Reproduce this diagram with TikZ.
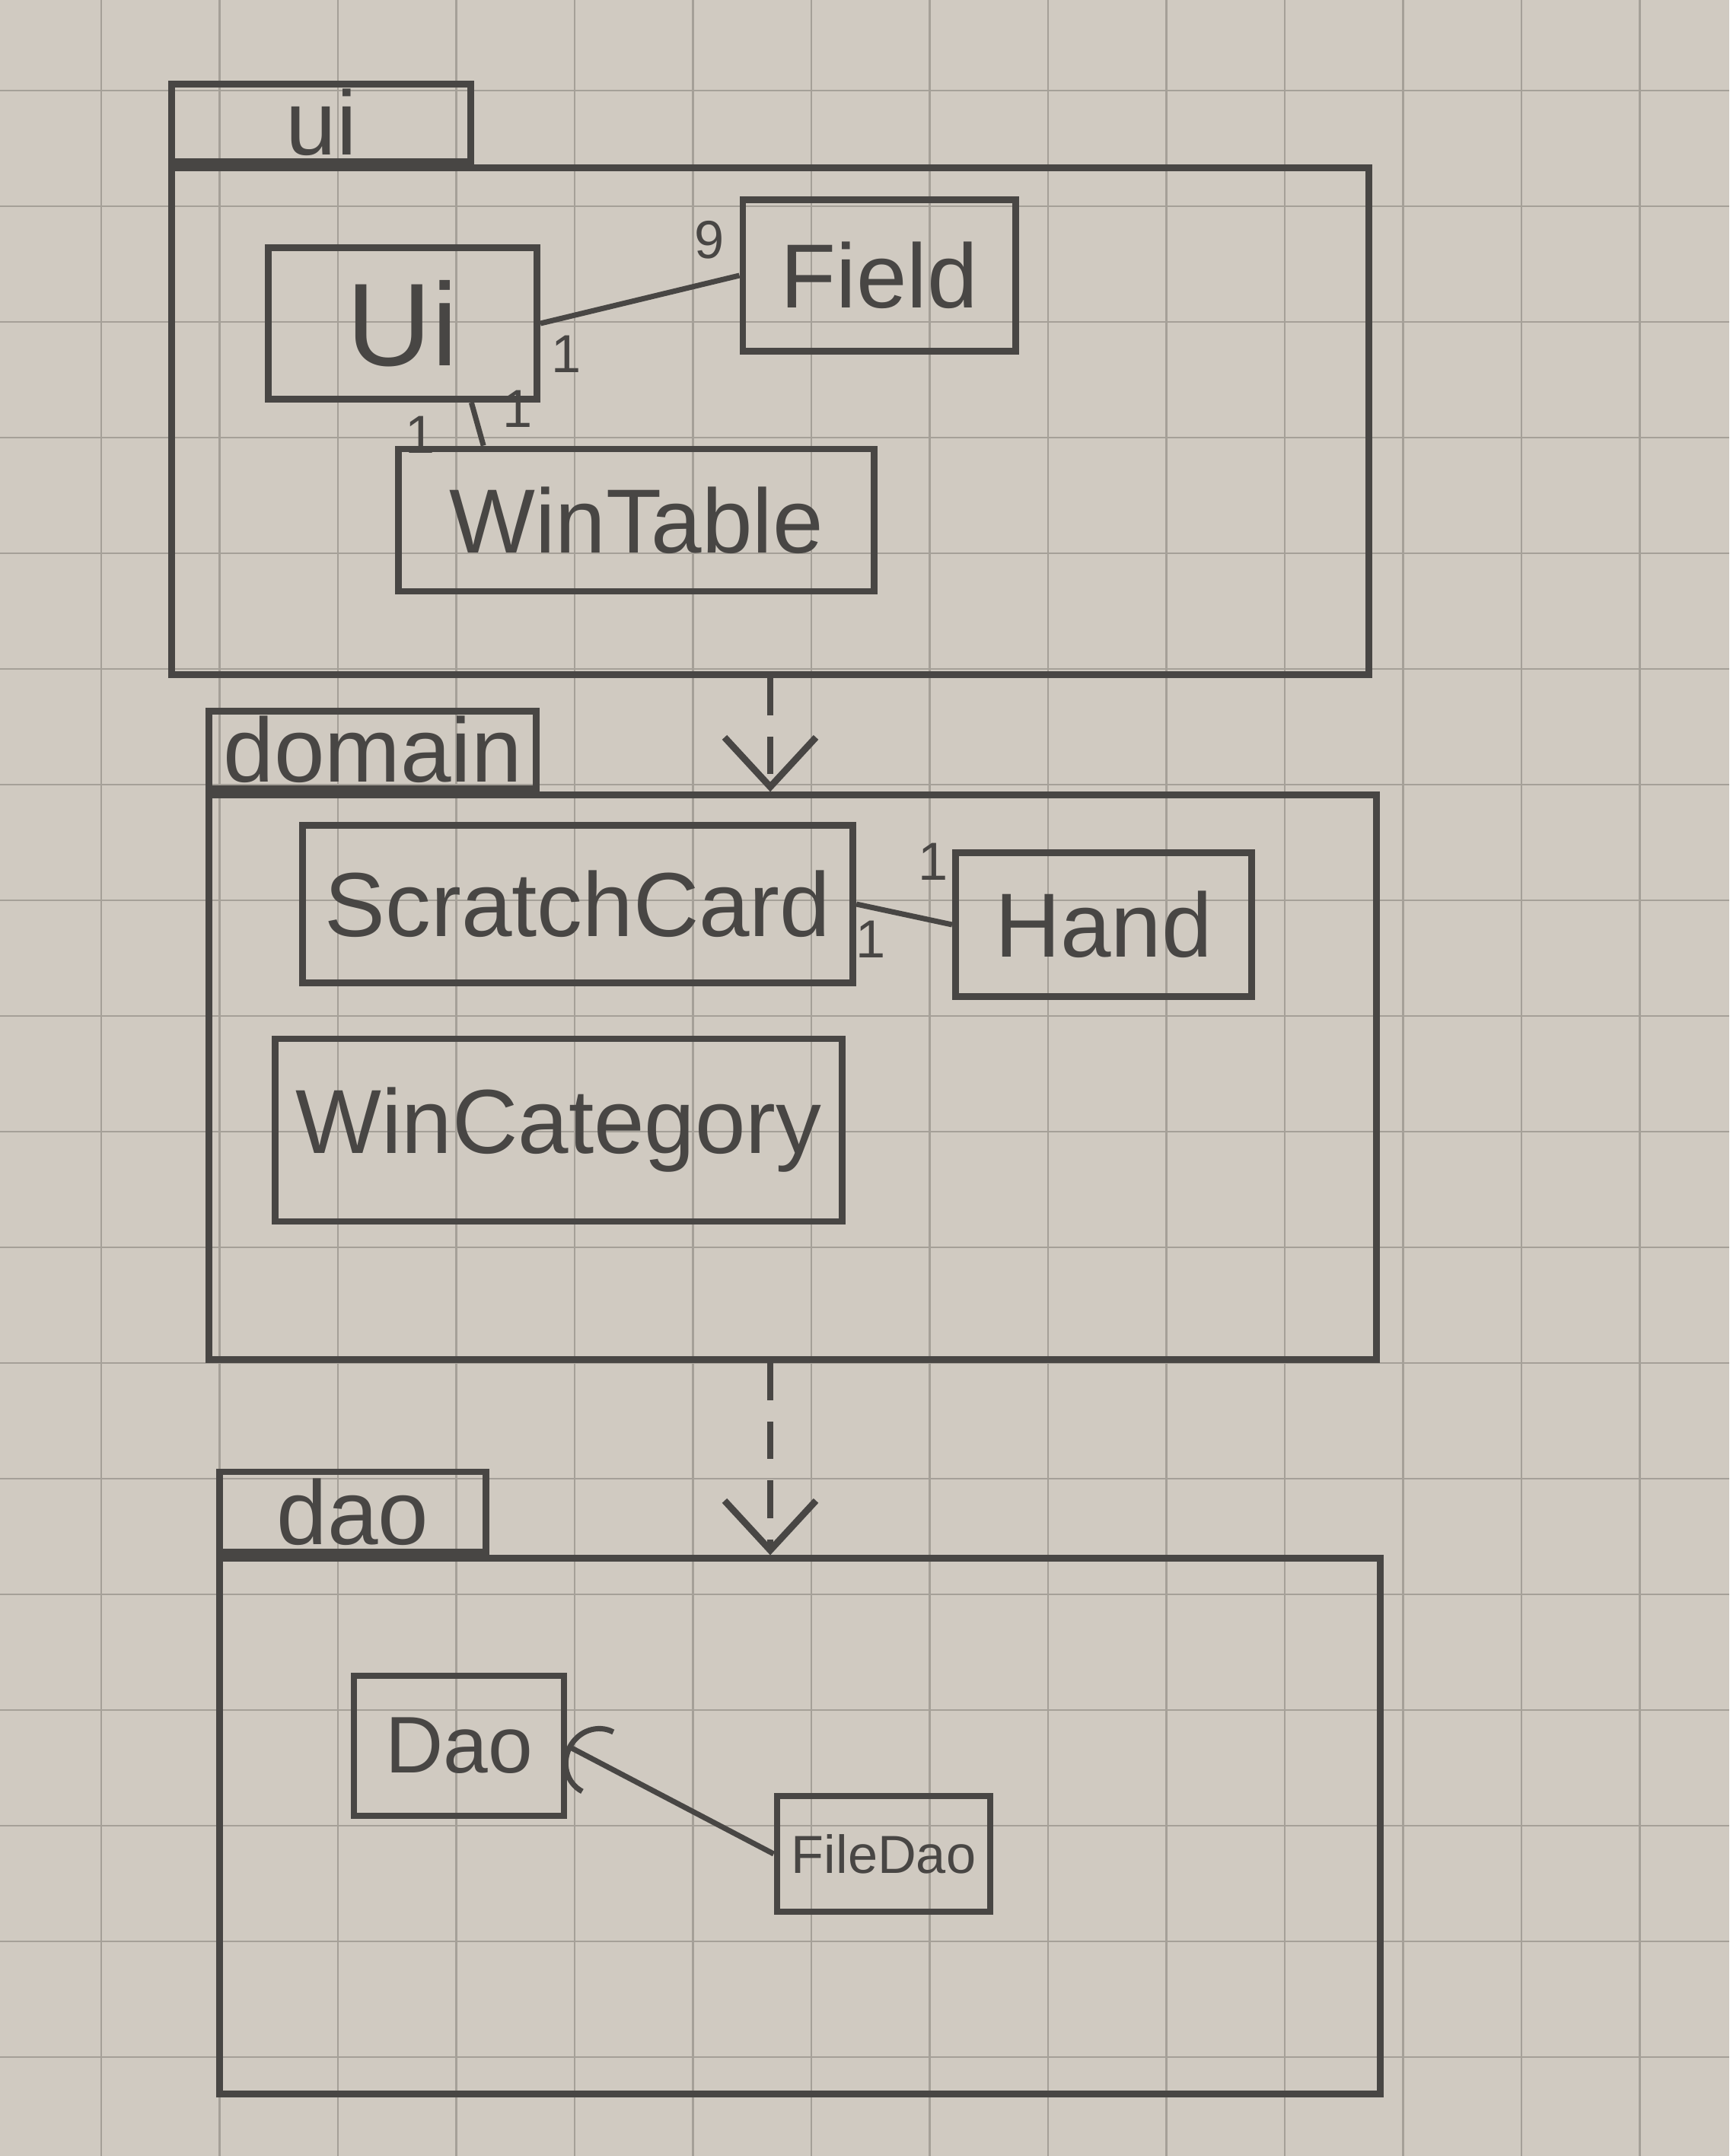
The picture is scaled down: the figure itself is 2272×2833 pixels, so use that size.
\documentclass[tikz,border=0pt]{standalone}
\usepackage{fontspec}
\setmainfont{Liberation Sans}
\usetikzlibrary{arrows.meta,positioning}

\definecolor{paper}{RGB}{208,202,193}
\definecolor{gridline}{RGB}{165,160,152}
\definecolor{pencil}{RGB}{72,70,68}

\begin{document}
\begin{tikzpicture}[
  x=0.01cm, y=-0.01cm,
  font=\fontsize{34}{40}\selectfont,
  pkgbody/.style={draw=pencil,line width=2.5pt,inner sep=0pt},
  pkgtab/.style={draw=pencil,line width=2.5pt,inner sep=2pt,text=pencil},
  cls/.style={draw=pencil,line width=2.5pt,inner sep=4pt,text=pencil},
  assoc/.style={draw=pencil,line width=2pt},
  dep/.style={draw=pencil,line width=2.5pt,dash pattern=on 14pt off 8pt,-{Straight Barb[length=6.5mm,width=12mm]}},
  gen/.style={draw=pencil,line width=2pt,-{Arc Barb[length=4.5mm,width=9.5mm]}},
  mult/.style={font=\fontsize{20}{24}\selectfont,text=pencil,inner sep=2pt},
]

% paper
\fill[paper] (0,0) rectangle (2272,2833);
\useasboundingbox (0,0) rectangle (2272,2833);
\foreach \gx in {133,288.5,...,2272} \draw[gridline,line width=0.7pt] (\gx,0) -- (\gx,2833);
\foreach \gy in {119,271,...,2833} \draw[gridline,line width=0.7pt] (0,\gy) -- (2272,\gy);

% packages
\node[pkgbody,minimum width=15.72cm,minimum height=6.65cm] (uibody) at (1012,553.5) {};
\node[pkgtab,minimum width=3.93cm,minimum height=0.98cm,above right=0pt and 0pt of uibody.north west] (uitab) {ui};

\node[pkgbody,minimum width=15.33cm,minimum height=7.41cm] (domainbody) at (1041.5,1415.5) {};
\node[pkgtab,minimum width=4.3cm,minimum height=0.78cm,above right=0pt and 0pt of domainbody.north west] (domaintab) {domain};

\node[pkgbody,minimum width=15.24cm,minimum height=7.03cm] (daobody) at (1051,2399.5) {};
\node[pkgtab,minimum width=3.5cm,minimum height=1.05cm,above right=0pt and 0pt of daobody.north west] (daotab) {dao};

% classes
\node[cls,minimum width=3.53cm,minimum height=1.99cm,font=\fontsize{44}{50}\selectfont] (ui) at (529,425) {Ui};
\node[cls,minimum width=3.58cm,minimum height=1.99cm] (field) at (1155,362) {Field};
\node[cls,minimum width=6.24cm,minimum height=1.87cm] (wintable) at (836,683.5) {WinTable};
\node[cls,minimum width=7.23cm,minimum height=2.07cm] (scratchcard) at (759,1188) {ScratchCard};
\node[cls,minimum width=3.89cm,minimum height=1.89cm] (hand) at (1450,1215) {Hand};
\node[cls,minimum width=7.45cm,minimum height=2.4cm] (wincategory) at (734,1485) {WinCategory};
\node[cls,minimum width=2.76cm,minimum height=1.84cm,font=\fontsize{30}{36}\selectfont] (dao) at (603,2294) {Dao};
\node[cls,minimum width=2.8cm,minimum height=1.52cm,font=\fontsize{20}{24}\selectfont] (filedao) at (1161,2436) {FileDao};

% connectors
\draw[assoc] (ui.east) -- node[mult,pos=0.13,below=4pt] {1} node[mult,pos=0.85,above=6pt] {9} (field.west);
\draw[assoc] (ui.-49) -- node[mult,pos=0.15,right=8pt] {1} node[mult,pos=0.75,left=14pt] {1} (wintable.154);
\draw[assoc] (scratchcard.east) -- node[mult,pos=0.15,below=2pt] {1} node[mult,pos=0.8,above=12pt] {1} (hand.west);
\draw[gen] (filedao.west) -- (dao.east);

\draw[dep] (uibody.south) -- (uibody.south |- domainbody.north);
\draw[dep] (domainbody.south -| uibody.south) -- (uibody.south |- daobody.north);

\end{tikzpicture}
\end{document}
